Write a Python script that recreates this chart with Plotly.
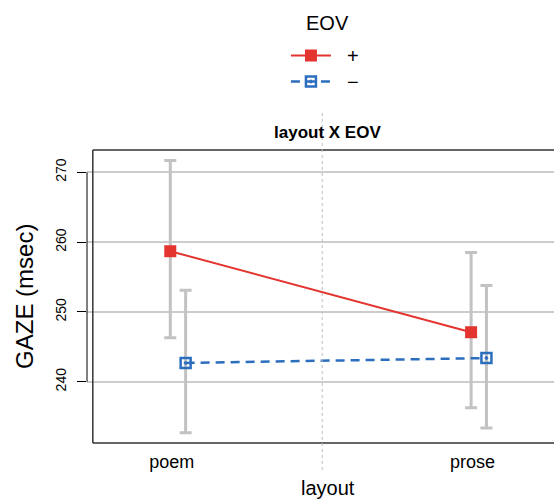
import plotly.graph_objects as go

# ---- data ----
categories = ["poem", "prose"]
plus_mean = [258.7, 247.1]
plus_upper = [271.7, 258.5]
plus_lower = [246.3, 236.3]
minus_mean = [242.7, 243.4]
minus_upper = [253.1, 253.8]
minus_lower = [232.7, 233.4]
y_ticks = [240, 250, 260, 270]
series_names = ["\u00a0\u00a0+", "\u00a0\u00a0\u2212"]
legend_title = "EOV"

# ---- style ----
RED = "#e3342f"
BLUE = "#2c6ebe"
GRAY_ERR = "#c2c2c2"
FONT = "Liberation Sans, Arial, Helvetica, sans-serif"
off_plus, off_minus = -0.005, 0.046
xpos = [i + 1 for i in range(len(categories))]

fig = go.Figure()

fig.add_trace(go.Scatter(
    x=[p + off_plus for p in xpos], y=plus_mean, name=series_names[0],
    mode="lines+markers", legend="legend",
    line=dict(color=RED, width=2),
    marker=dict(symbol="square", size=12, color=RED),
    error_y=dict(type="data", symmetric=False,
                 array=[u - m for u, m in zip(plus_upper, plus_mean)],
                 arrayminus=[m - l for m, l in zip(plus_mean, plus_lower)],
                 color=GRAY_ERR, thickness=3, width=6),
))
fig.add_trace(go.Scatter(
    x=[p + off_minus for p in xpos], y=minus_mean, name=series_names[1],
    mode="lines+markers", legend="legend2",
    line=dict(color=BLUE, width=2.5, dash="9px,6px"),
    marker=dict(symbol="square-open-dot", size=10, color=BLUE,
                line=dict(color=BLUE, width=2.5)),
    error_y=dict(type="data", symmetric=False,
                 array=[u - m for u, m in zip(minus_upper, minus_mean)],
                 arrayminus=[m - l for m, l in zip(minus_mean, minus_lower)],
                 color=GRAY_ERR, thickness=3, width=6),
))

x_lo, x_hi = 0.7181, 2.2706
frame_x = 0.7374
shapes = [
    dict(type="line", xref="x", yref="paper", x0=frame_x, x1=frame_x, y0=0, y1=1,
         line=dict(color="#333333", width=1.5)),
    dict(type="line", xref="x", yref="paper", x0=frame_x, x1=x_hi, y0=1, y1=1,
         line=dict(color="#333333", width=1.5)),
    dict(type="line", xref="x", yref="paper", x0=frame_x, x1=x_hi, y0=0, y1=0,
         line=dict(color="#333333", width=1.5)),
    dict(type="line", xref="paper", yref="y", x0=0, x1=0, y0=y_ticks[0], y1=y_ticks[-1],
         line=dict(color="black", width=1)),
    dict(type="line", xref="x", yref="paper", x0=1.5, x1=1.5, y0=-0.092, y1=1.13,
         line=dict(color="#bbbbbb", width=1, dash="dot")),
]

annotations = [
    dict(text=legend_title, xref="paper", yref="paper", x=0.5155, y=(443 - 23) / 293,
         xanchor="center", yanchor="middle", showarrow=False,
         font=dict(size=20, color="black", family=FONT)),
    dict(text="<b>layout X EOV</b>", xref="paper", yref="paper", x=0.516, y=1.0597,
         xanchor="center", yanchor="middle", showarrow=False,
         font=dict(size=17, color="black", family=FONT)),
    dict(text="GAZE (msec)", xref="paper", yref="paper", x=-0.1328, y=0.502,
         xanchor="center", yanchor="middle", showarrow=False, textangle=-90,
         font=dict(size=24, color="black", family=FONT)),
    dict(text="layout", xref="paper", yref="paper", x=0.515, y=-0.1536,
         xanchor="center", yanchor="middle", showarrow=False,
         font=dict(size=20, color="black", family=FONT)),
]

legend_common = dict(x=0.426, xanchor="left", yanchor="top",
                     font=dict(size=20), itemwidth=40, bgcolor="rgba(0,0,0,0)")

fig.update_layout(
    width=554, height=499,
    margin=dict(l=87, r=0, t=150, b=56),
    paper_bgcolor="white", plot_bgcolor="white",
    font=dict(family=FONT, color="black"),
    shapes=shapes, annotations=annotations,
    showlegend=True,
    legend=dict(y=(443 - 36) / 293, **legend_common),
    legend2=dict(y=(443 - 62) / 293, **legend_common),
    xaxis=dict(range=[x_lo, x_hi], tickvals=xpos, ticktext=categories,
               showgrid=False, zeroline=False, showline=False, ticks="",
               tickfont=dict(size=18), ticklabelstandoff=6),
    yaxis=dict(range=[231.24, 273.19], tickvals=y_ticks,
               showgrid=True, gridcolor="#cccccc", gridwidth=1.5,
               zeroline=False, showline=False, ticks="outside", ticklen=9,
               tickcolor="black", tickwidth=1, tickangle=-90,
               tickfont=dict(size=14), ticklabelstandoff=5),
)

fig.write_html(
    "out.html",
    config={"displayModeBar": False},
    post_script="document.documentElement.style.margin='0';document.body.style.margin='0';document.body.style.overflow='hidden';",
)
